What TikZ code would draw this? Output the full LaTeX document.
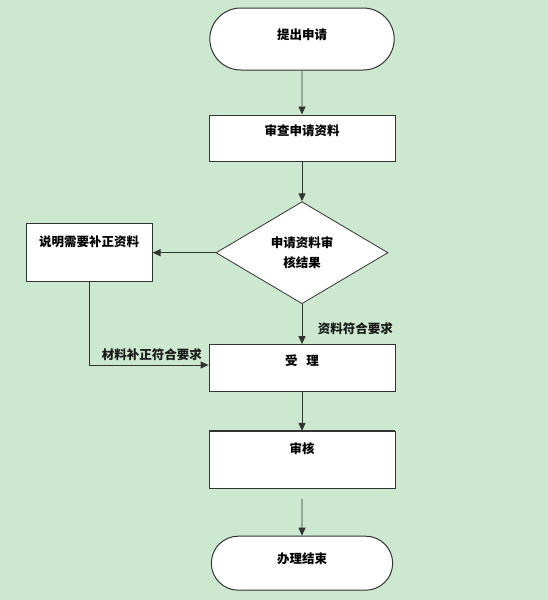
\documentclass[tikz,border=0pt]{standalone}
\usepackage{fontspec}
\setmainfont{Noto Sans CJK SC}
\usetikzlibrary{arrows.meta,positioning,shapes.geometric,shapes.misc}
\definecolor{bgmint}{HTML}{CCE8CF}
\definecolor{ink}{HTML}{1A1A1A}
\definecolor{edge}{HTML}{333333}
\tikzset{
  font=\bfseries\fontsize{12.5}{20}\selectfont,
  flow/.style={
    -{Triangle[length=8pt,width=7pt]},
    draw=edge,
    line width=0.9pt
  },
  box/.style={
    rectangle,
    draw=edge,
    line width=0.8pt,
    fill=white,
    align=center,
    minimum width=186pt,
    minimum height=46pt,
    text height=10pt,
    inner ysep=2pt
  },
  terminal/.style={
    rounded rectangle,
    draw=edge,
    line width=1pt,
    fill=white,
    minimum width=191pt,
    minimum height=62pt,
    text height=10pt,
    text depth=8.6pt
  },
  decision/.style={
    diamond,
    draw=edge,
    line width=0.8pt,
    fill=white,
    align=center,
    minimum width=172pt,
    minimum height=102pt,
    inner sep=0pt
  },
  note/.style={text=ink}
}

\begin{document}
\begin{tikzpicture}[x=1pt, y=-1pt]
  \fill[bgmint] (0,0) rectangle (548,600);

  \node[terminal] (start) at (302,39) {提出申请};
  \node[box, below=44pt of start, text depth=14.6pt] (check) {审查申请资料};
  \node[decision, below=40pt of check] (result) {申请资料审\\核结果};
  \node[box, left=63pt of result, minimum width=126pt, minimum height=58pt, text depth=22.6pt] (fix) {说明需要补正资料};
  \node[box, below=40pt of result, minimum height=47pt, text depth=15.6pt] (accept) {受\hspace{0.7em}理};
  \node[box, below=39pt of accept, minimum height=57pt, text depth=23.6pt] (audit) {审核};
  \node[terminal, below=47pt of audit, minimum width=188pt, minimum height=54pt] (finish) {办理结束};
  \draw[edge, line width=1.8pt] (audit.north west) -- (audit.north east);

  \draw[flow] (start) -- (check);
  \draw[flow] (check) -- (result);
  \draw[flow] (result.west) -- (fix.east);
  \draw[flow] (result.south) -- node[note, pos=0.62, right=12pt] {资料符合要求} (accept.north);
  \draw[flow] (fix.south) |- node[note, pos=1, anchor=south east, xshift=-3pt] {材料补正符合要求} ([yshift=3pt]accept.west);
  \draw[flow] (accept) -- (audit);
  \draw[flow, shorten <=10pt] (audit) -- (finish);
\end{tikzpicture}
\end{document}
